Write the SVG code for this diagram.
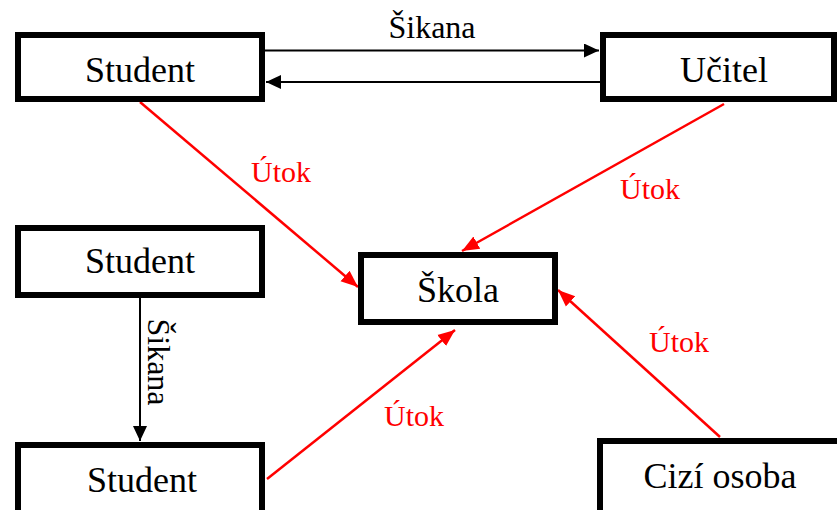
<svg xmlns="http://www.w3.org/2000/svg" width="837" height="510" viewBox="0 0 837 510">
<style>
.box{fill:#fff;stroke:#000;stroke-width:6}
.lbl{font-family:"Liberation Serif","Times New Roman",serif;font-size:36px;text-anchor:middle;fill:#000}
.blk{stroke:#000;stroke-width:2;fill:none}
.red{stroke:#ff0000;stroke-width:2.5;fill:none}
.rt{font-family:"Liberation Serif","Times New Roman",serif;font-size:30px;text-anchor:middle;fill:#ff0000}
.bt{font-family:"Liberation Serif","Times New Roman",serif;font-size:32px;text-anchor:middle;fill:#000}
</style>
<defs>
<marker id="ab" markerUnits="userSpaceOnUse" markerWidth="16" markerHeight="14" refX="15" refY="7" orient="auto"><path d="M0,0 L15,7 L0,14 Z" fill="#000"/></marker>
<marker id="ar" markerUnits="userSpaceOnUse" markerWidth="18" markerHeight="16" refX="17" refY="8" orient="auto"><path d="M0,1 L17,8 L0,15 Z" fill="#ff0000"/></marker>
</defs>
<rect width="837" height="510" fill="#fff"/>
<g id="connectors">
<line class="blk" x1="265" y1="50.5" x2="599" y2="50.5" marker-end="url(#ab)"/>
<line class="blk" x1="600" y1="82" x2="266" y2="82" marker-end="url(#ab)"/>
<line class="blk" x1="140" y1="298" x2="140" y2="441" marker-end="url(#ab)"/>
<line class="red" x1="140" y1="102" x2="358" y2="287" marker-end="url(#ar)"/>
<line class="red" x1="724" y1="104" x2="462" y2="251" marker-end="url(#ar)"/>
<line class="red" x1="267" y1="479" x2="455" y2="330" marker-end="url(#ar)"/>
<line class="red" x1="720" y1="437" x2="558" y2="290" marker-end="url(#ar)"/>
<text class="bt" x="432" y="38">Šikana</text>
<text class="bt" transform="translate(148,362) rotate(90)" x="0" y="0">Šikana</text>
<text class="rt" x="281" y="182">Útok</text>
<text class="rt" x="650" y="199">Útok</text>
<text class="rt" x="414" y="426">Útok</text>
<text class="rt" x="679" y="352">Útok</text>
</g>
<g id="student1"><rect class="box" x="18" y="35" width="244" height="64"/><text class="lbl" x="140" y="82">Student</text></g>
<g id="ucitel"><rect class="box" x="603" y="35" width="231" height="64"/><text class="lbl" x="724" y="82">Učitel</text></g>
<g id="student2"><rect class="box" x="18" y="228" width="244" height="67"/><text class="lbl" x="140" y="273">Student</text></g>
<g id="student3"><rect class="box" x="18" y="445" width="244" height="90"/><text class="lbl" x="142" y="492">Student</text></g>
<g id="skola"><rect class="box" x="361" y="255" width="194" height="67"/><text class="lbl" x="458" y="302">Škola</text></g>
<g id="cizi"><rect class="box" x="600" y="441" width="250" height="100"/><text class="lbl" x="720" y="488">Cizí osoba</text></g>
</svg>
